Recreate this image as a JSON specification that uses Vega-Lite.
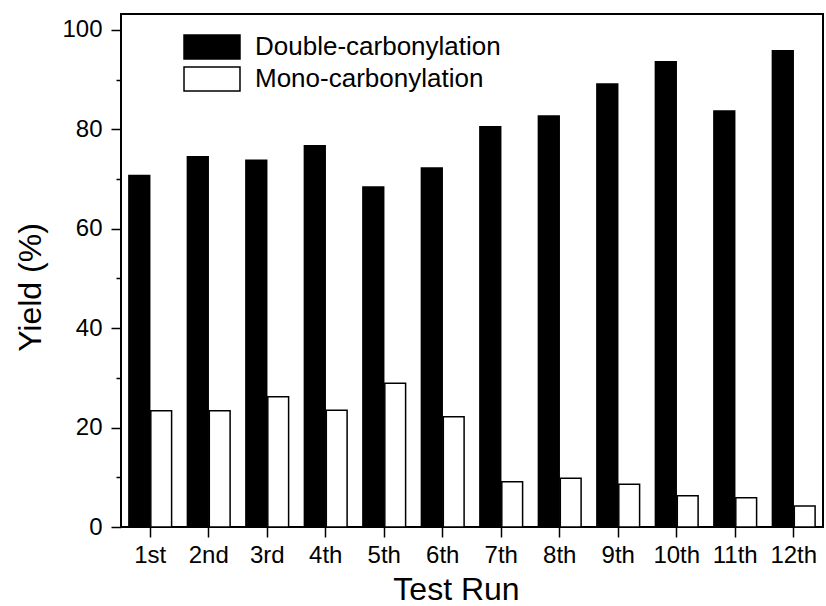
{
  "$schema": "https://vega.github.io/schema/vega-lite/v6.json",
  "width": 702,
  "height": 513,
  "autosize": {"type": "none"},
  "padding": {"left": 121, "top": 14, "right": 3, "bottom": 79},
  "background": "white",
  "config": {
    "view": {"stroke": "black", "strokeWidth": 2},
    "font": "Liberation Sans",
    "axis": {"domain": false, "grid": false, "tickColor": "black", "tickWidth": 1.5, "labelColor": "black", "titleColor": "black", "labelFont": "Liberation Sans", "titleFont": "Liberation Sans", "titleFontWeight": "normal"}
  },
  "data": {
    "values": [
      {"run": "1st", "series": "Double-carbonylation", "value": 70.7},
      {"run": "2nd", "series": "Double-carbonylation", "value": 74.5},
      {"run": "3rd", "series": "Double-carbonylation", "value": 73.8},
      {"run": "4th", "series": "Double-carbonylation", "value": 76.7},
      {"run": "5th", "series": "Double-carbonylation", "value": 68.4},
      {"run": "6th", "series": "Double-carbonylation", "value": 72.2},
      {"run": "7th", "series": "Double-carbonylation", "value": 80.5},
      {"run": "8th", "series": "Double-carbonylation", "value": 82.7},
      {"run": "9th", "series": "Double-carbonylation", "value": 89.1},
      {"run": "10th", "series": "Double-carbonylation", "value": 93.6},
      {"run": "11th", "series": "Double-carbonylation", "value": 83.7},
      {"run": "12th", "series": "Double-carbonylation", "value": 95.8},
      {"run": "1st", "series": "Mono-carbonylation", "value": 23.4},
      {"run": "2nd", "series": "Mono-carbonylation", "value": 23.4},
      {"run": "3rd", "series": "Mono-carbonylation", "value": 26.2},
      {"run": "4th", "series": "Mono-carbonylation", "value": 23.5},
      {"run": "5th", "series": "Mono-carbonylation", "value": 28.9},
      {"run": "6th", "series": "Mono-carbonylation", "value": 22.2},
      {"run": "7th", "series": "Mono-carbonylation", "value": 9.1},
      {"run": "8th", "series": "Mono-carbonylation", "value": 9.8},
      {"run": "9th", "series": "Mono-carbonylation", "value": 8.6},
      {"run": "10th", "series": "Mono-carbonylation", "value": 6.3},
      {"run": "11th", "series": "Mono-carbonylation", "value": 5.9},
      {"run": "12th", "series": "Mono-carbonylation", "value": 4.2}
    ]
  },
  "mark": {"type": "bar", "stroke": "black", "strokeWidth": 1.5},
  "encoding": {
    "x": {
      "field": "run", "type": "nominal", "sort": null,
      "scale": {"paddingInner": 0.27, "paddingOuter": 0.135},
      "axis": {"title": "Test Run", "labelAngle": 0, "labelFontSize": 24, "titleFontSize": 32, "tickSize": 10, "labelPadding": 6, "titlePadding": 7, "titleX": 335}
    },
    "xOffset": {"field": "series", "type": "nominal", "scale": {"paddingInner": 0.05}},
    "y": {
      "field": "value", "type": "quantitative",
      "scale": {"domain": [0, 103.2], "nice": false},
      "axis": {
        "title": "Yield (%)",
        "values": [0, 10, 20, 30, 40, 50, 60, 70, 80, 90, 100],
        "labelExpr": "datum.value % 20 === 0 ? datum.label : ''",
        "tickSize": {"condition": {"test": "datum.value % 20 !== 0", "value": 5}, "value": 10},
        "labelFontSize": 24, "titleFontSize": 32, "labelPadding": 9, "titlePadding": 14, "titleY": 273
      }
    },
    "fill": {
      "field": "series", "type": "nominal",
      "scale": {"domain": ["Double-carbonylation", "Mono-carbonylation"], "range": ["black", "white"]},
      "legend": {
        "title": null, "orient": "none", "legendX": 78, "legendY": 20,
        "symbolType": "M-2.333,-1H2.333V1H-2.333Z", "symbolSize": 576,
        "symbolStrokeColor": "black", "symbolStrokeWidth": 1.5,
        "labelFontSize": 26, "labelFont": "Liberation Sans", "labelColor": "black",
        "labelLimit": 400, "labelOffset": 30, "rowPadding": 2
      }
    }
  }
}
